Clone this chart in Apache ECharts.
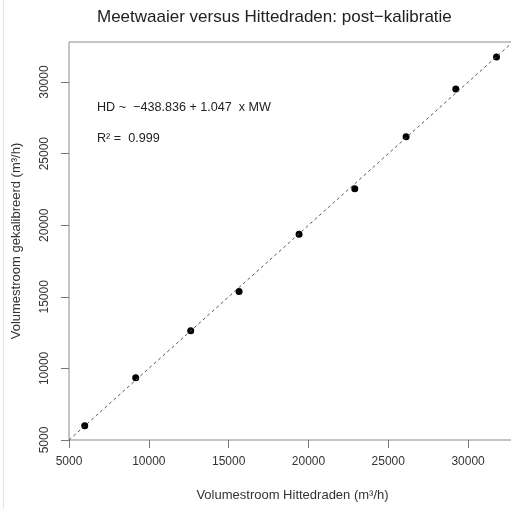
<!DOCTYPE html>
<html>
<head>
<meta charset="utf-8">
<script src="https://cdn.jsdelivr.net/npm/echarts@6/dist/echarts.min.js"></script>
<style>html,body{margin:0;padding:0;background:#fff;}#c{width:511px;height:509px;}</style>
</head>
<body>
<div id="c"></div>
<script>
var hittedraden = [5984, 9179, 12625, 15652, 19411, 22901, 26115, 29229, 31780];
var gekalibreerd = [6001, 9342, 12633, 15364, 19377, 22549, 26190, 29510, 31751];
var xTicks = [5000, 10000, 15000, 20000, 25000, 30000];
var yTicks = [5000, 10000, 15000, 20000, 25000, 30000];
var refLine = [5000, 33000];
var titleText = 'Meetwaaier versus Hittedraden: post\u2212kalibratie';
var eqText = 'HD ~  \u2212438.836 + 1.047  x MW';
var r2Text = 'R\u00b2 =  0.999';

var pts = hittedraden.map(function (x, i) { return [x, gekalibreerd[i]]; });
var font = 'Liberation Sans, Arial, sans-serif';
var fmt = function (v) { return String(v); };
var chart = echarts.init(document.getElementById('c'));
chart.setOption({
  animation: false,
  backgroundColor: '#fff',
  title: {
    text: titleText, left: 92, top: 4,
    textStyle: { fontFamily: font, fontSize: 17, fontWeight: 'normal', color: '#222' }
  },
  grid: { left: 69, right: -5, top: 42, bottom: 69, show: true, borderColor: '#8a8a8a', borderWidth: 1, outerBoundsMode: 'none', containLabel: false },
  xAxis: {
    type: 'value', min: 5000, max: 33000, interval: 5000,
    name: 'Volumestroom Hittedraden (m\u00b3/h)', nameLocation: 'middle', nameGap: 49,
    nameTextStyle: { fontFamily: font, fontSize: 13, color: '#333' },
    axisLine: { show: false },
    axisTick: { show: true, length: 8, lineStyle: { color: '#777' }, customValues: xTicks },
    axisLabel: { fontFamily: font, fontSize: 12, color: '#333', margin: 16, customValues: xTicks, formatter: fmt },
    splitLine: { show: false }
  },
  yAxis: {
    type: 'value', min: 5000, max: 32800, interval: 5000,
    name: 'Volumestroom gekalibreerd (m\u00b3/h)', nameLocation: 'middle', nameGap: 46, nameRotate: 90,
    nameTextStyle: { fontFamily: font, fontSize: 13, color: '#333' },
    axisLine: { show: false },
    axisTick: { show: true, length: 8, lineStyle: { color: '#777' }, customValues: yTicks },
    axisLabel: { fontFamily: font, fontSize: 12, color: '#333', margin: 18, rotate: 90, customValues: yTicks, formatter: fmt },
    splitLine: { show: false }
  },
  series: [
    {
      type: 'line', data: [[refLine[0], refLine[0]], [refLine[1], refLine[1]]],
      symbol: 'none', clip: true, silent: true,
      lineStyle: { color: '#555', width: 1, type: [3, 3] }
    },
    {
      type: 'scatter', data: pts, symbol: 'circle', symbolSize: 7,
      itemStyle: { color: '#000', opacity: 1 }
    }
  ],
  graphic: [
    { type: 'rect', shape: { x: 3, y: 0, width: 1, height: 509 }, style: { fill: '#e4e4e4' }, silent: true },
    { type: 'text', x: 97, y: 108, style: { text: eqText, fontFamily: font, fontSize: 12.6, fill: '#222', verticalAlign: 'middle' } },
    { type: 'text', x: 97, y: 139, style: { text: r2Text, fontFamily: font, fontSize: 12.6, fill: '#222', verticalAlign: 'middle' } }
  ]
});
</script>
</body>
</html>
